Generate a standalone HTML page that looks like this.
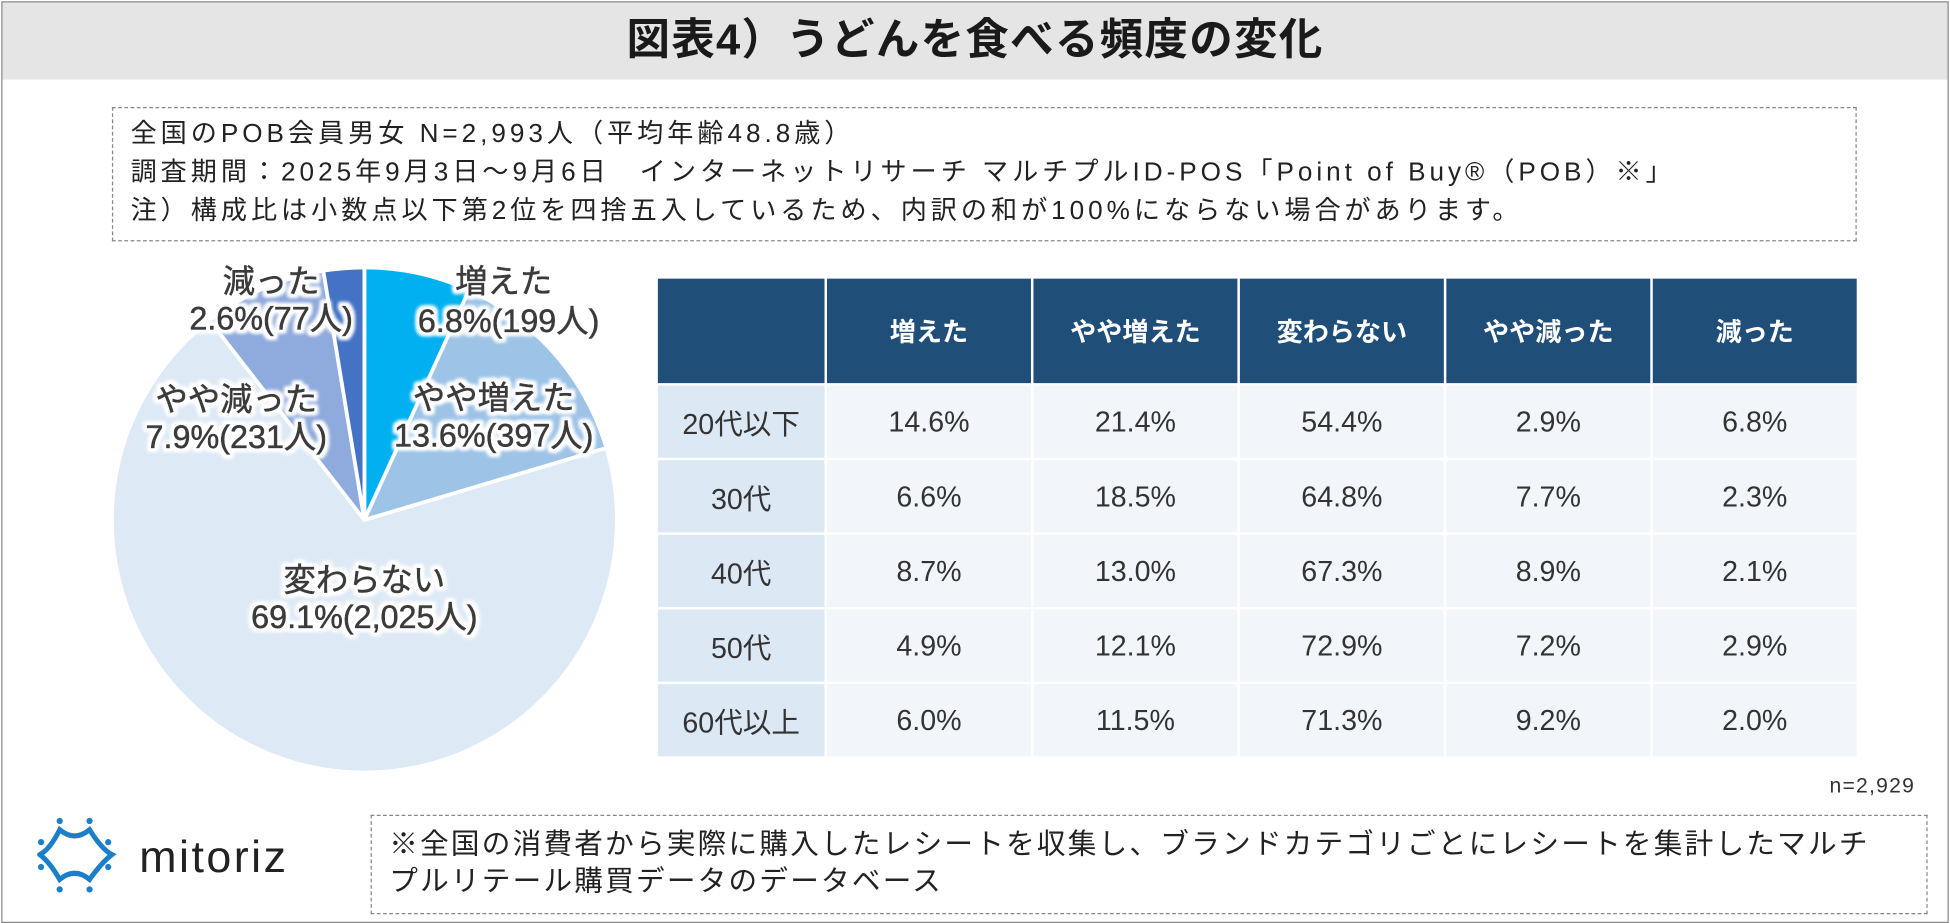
<!DOCTYPE html>
<html><head><meta charset="utf-8"><style>
html,body{margin:0;padding:0;background:#fff;}
body{width:1950px;height:923px;overflow:hidden;position:relative;font-family:"Liberation Sans","Noto Sans CJK JP",sans-serif;}
#wrap{position:absolute;left:0;top:0;width:1568px;height:742px;transform-origin:0 0;transform:scale(1.24362,1.24394);}
.abs{position:absolute;}
#frame{left:1px;top:1px;width:1564px;height:739px;border:1px solid #8a8a8a;}
#titlebar{left:2px;top:2px;width:1564px;height:62px;background:#e5e5e5;text-align:center;font-size:35px;font-weight:bold;line-height:62px;color:#1a1a1a;letter-spacing:1px;}
#info{left:90px;top:86px;width:1403px;height:108px;border:1px dashed #888;font-size:21px;letter-spacing:3.2px;color:#222;line-height:31px;padding:5px 14px;box-sizing:border-box;white-space:nowrap;}
table{border-collapse:collapse;position:absolute;left:527px;top:222px;table-layout:fixed;width:966px;}
td,th{border:2px solid #fff;text-align:center;font-size:23px;color:#333;font-weight:normal;padding:0;}
th{background:#1f4e79;color:#fff;height:84px;font-weight:bold;font-size:21px;}
td{height:58px;background:#f2f6fb;}
td.rh{background:#dce8f4;}
#n{right:28px;top:622px;font-size:17px;color:#333;letter-spacing:1px;}
#note{left:298px;top:655px;width:1252px;height:80px;border:1px dashed #888;box-sizing:border-box;font-size:23px;letter-spacing:1.8px;line-height:30px;padding:7px 14px;color:#222;white-space:nowrap;overflow:hidden;}
</style></head><body>
<div id="wrap">
<div id="frame" class="abs"></div>
<div id="titlebar" class="abs">図表4）うどんを食べる頻度の変化</div>
<div id="info" class="abs">全国のPOB会員男女 N=2,993人（平均年齢48.8歳）<br>調査期間：2025年9月3日～9月6日　インターネットリサーチ マルチプルID-POS「Point of Buy®（POB）※」<br>注）構成比は小数点以下第2位を四捨五入しているため、内訳の和が100%にならない場合があります。</div>
<svg class="abs" style="left:0;top:200px" width="520" height="430">
<defs><filter id="halo"><feMorphology in="SourceAlpha" operator="dilate" radius="2.5" result="d"/><feGaussianBlur in="d" stdDeviation="1.5" result="b"/><feFlood flood-color="#fff"/><feComposite in2="b" operator="in" result="w"/><feMerge><feMergeNode in="w"/><feMergeNode in="w"/><feMergeNode in="SourceGraphic"/></feMerge></filter></defs>
<g id="slices"></g><g id="labels" filter="url(#halo)" font-size="26" fill="#3a3a3a" stroke="#3a3a3a" stroke-width="0.5" text-anchor="middle"></g>
</svg>
<table><colgroup><col style="width:136px"><col style="width:166px"><col style="width:166px"><col style="width:166px"><col style="width:166px"><col style="width:166px"></colgroup><thead><tr id="hrow"></tr></thead><tbody id="tbody"></tbody></table>
<div id="n" class="abs">n=2,929</div>
<svg class="abs" style="left:30px;top:655px" width="240" height="65">
<g fill="none" stroke-width="4"><path d="M18 12 Q30 22 42 12 Q52 28 60 32 Q52 38 42 52 Q30 42 18 52 Q10 38 2 32 Q10 28 18 12Z" stroke="#1a7fc8"/></g>
<g fill="#1a7fc8"><circle cx="18" cy="5" r="2.5"/><circle cx="42" cy="5" r="2.5"/><circle cx="18" cy="60" r="2.5"/><circle cx="42" cy="60" r="2.5"/><circle cx="3" cy="22" r="2.5"/><circle cx="3" cy="42" r="2.5"/><circle cx="57" cy="22" r="2.5"/><circle cx="57" cy="42" r="2.5"/></g>
<text x="82" y="46" font-size="36" fill="#222" font-family="Liberation Sans, sans-serif" letter-spacing="2">mitoriz</text>
</svg>
<div id="note" class="abs">※全国の消費者から実際に購入したレシートを収集し、ブランドカテゴリごとにレシートを集計したマルチ<br>プルリテール購買データのデータベース</div>
</div>
<script>
const pieCats=["増えた","やや増えた","変わらない","やや減った","減った"];
const pieVals=[6.8,13.6,69.1,7.9,2.6];
const pieCounts=["199","397","2,025","231","77"];
const ageRows=["20代以下","30代","40代","50代","60代以上"];
const tFuyeta=[14.6,6.6,8.7,4.9,6.0];
const tYayaFuyeta=[21.4,18.5,13.0,12.1,11.5];
const tKawaranai=[54.4,64.8,67.3,72.9,71.3];
const tYayaHetta=[2.9,7.7,8.9,7.2,9.2];
const tHetta=[6.8,2.3,2.1,2.9,2.0];
const colors=["#00b0f0","#9dc3e6","#dde9f5","#8faadc","#4472c4"];
const NS="http://www.w3.org/2000/svg";
const cx=293,cy=218,r=203;
const total=pieVals.reduce((a,b)=>a+b,0);
const sg=document.getElementById('slices'),lg=document.getElementById('labels');
let a0=0;
pieVals.forEach((v,i)=>{
  const a1=a0+v/total*2*Math.PI;
  const p=(a)=>[cx+r*Math.sin(a),cy-r*Math.cos(a)];
  const [x0,y0]=p(a0),[x1,y1]=p(a1);
  const path=document.createElementNS(NS,'path');
  path.setAttribute('d',`M${cx},${cy}L${x0},${y0}A${r},${r} 0 ${a1-a0>Math.PI?1:0} 1 ${x1},${y1}Z`);
  path.setAttribute('fill',colors[i]);path.setAttribute('stroke','#fff');path.setAttribute('stroke-width','3');
  
  
  sg.appendChild(path);
  a0=a1;
});
const labXY=[[405,26,409,58],[397,120,397,150],[293,266,293,296],[190,121,190,151],[218,26,218,56]];
pieCats.forEach((c,i)=>{
  const [x1,y1,x2,y2]=labXY[i];
  const t1=document.createElementNS(NS,'text');t1.setAttribute('x',x1);t1.setAttribute('y',y1+9);t1.textContent=c;
  
  
  const t2=document.createElementNS(NS,'text');t2.setAttribute('x',x2);t2.setAttribute('y',y2+9);t2.textContent=pieVals[i].toFixed(1)+"%("+pieCounts[i]+"人)";
  
  
  lg.appendChild(t1);lg.appendChild(t2);
});
const hrow=document.getElementById('hrow');
["",...pieCats].forEach((h,i)=>{
  const th=document.createElement('th');th.textContent=h;
  
  
  hrow.appendChild(th);
});
const cols=[tFuyeta,tYayaFuyeta,tKawaranai,tYayaHetta,tHetta];
const tb=document.getElementById('tbody');
ageRows.forEach((rname,ri)=>{
  const tr=document.createElement('tr');
  
  
  const c0=document.createElement('td');c0.className='rh';c0.textContent=rname;
  
  
  tr.appendChild(c0);
  cols.forEach(col=>{
    const td=document.createElement('td');td.textContent=col[ri].toFixed(1)+'%';
    
    
    tr.appendChild(td);
  });
  tb.appendChild(tr);
});
</script>
</body></html>
